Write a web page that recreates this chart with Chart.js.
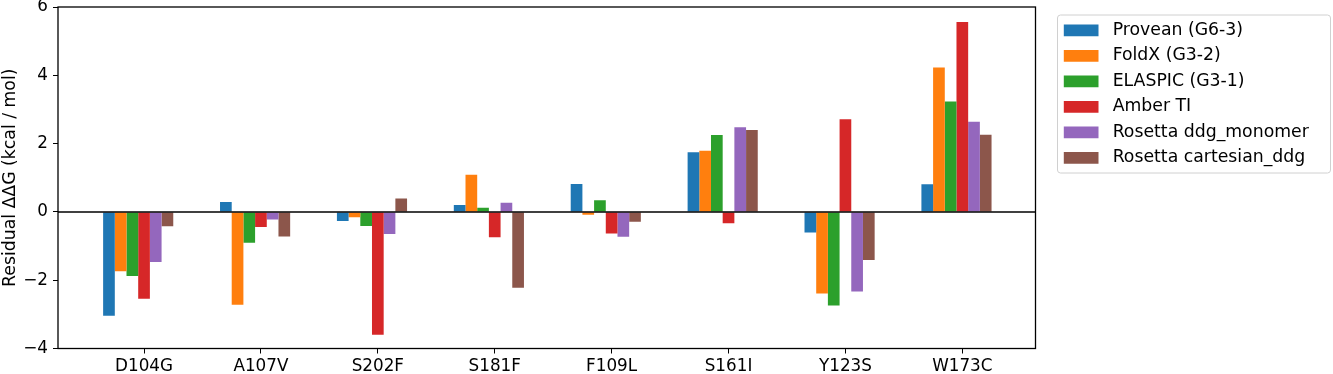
<!DOCTYPE html>
<html>
<head>
<meta charset="utf-8">
<script src="https://cdn.jsdelivr.net/npm/chart.js@4/dist/chart.umd.min.js"></script>
<style>
  html, body { margin: 0; padding: 0; background: #fff; }
  #wrap { width: 1333px; height: 374px; }
</style>
</head>
<body>
<div id="wrap"><canvas id="chart"></canvas></div>
<script>
// ---------- data ----------
const mutations = ['D104G', 'A107V', 'S202F', 'S181F', 'F109L', 'S161I', 'Y123S', 'W173C'];

const provean  = [-3.04,  0.29, -0.27,  0.20,  0.82,  1.75, -0.60,  0.81];
const foldx    = [-1.74, -2.72, -0.16,  1.09, -0.08,  1.79, -2.39,  4.23];
const elaspic  = [-1.88, -0.90, -0.41,  0.12,  0.34,  2.25, -2.74,  3.23];
const amberTI  = [-2.54, -0.44, -3.60, -0.74, -0.63, -0.33,  2.71,  5.56];
const rosMono  = [-1.47, -0.22, -0.65,  0.27, -0.73,  2.48, -2.33,  2.64];
const rosCart  = [-0.42, -0.72,  0.39, -2.22, -0.29,  2.40, -1.41,  2.26];

const seriesNames = ['Provean (G6-3)', 'FoldX (G3-2)', 'ELASPIC (G3-1)', 'Amber TI',
                     'Rosetta ddg_monomer', 'Rosetta cartesian_ddg'];
const seriesValues = [provean, foldx, elaspic, amberTI, rosMono, rosCart];
const seriesColors = ['#1f77b4', '#ff7f0e', '#2ca02c', '#d62728', '#9467bd', '#8c564b'];

const yTicks = [-4, -2, 0, 2, 4, 6];

// ---------- layout ----------
const FONT = { family: 'DejaVu Sans', size: 16.8 };
const BIG = { family: 'DejaVu Sans', size: 17.3 };
const GROUP_SHIFT = -0.05;  // tick sits on the 4th bar, so the group is half a bar left

const datasets = seriesNames.map((name, k) => ({
  label: name,
  data: seriesValues[k].map((v, i) => ({ x: i + GROUP_SHIFT, y: v })),
  backgroundColor: seriesColors[k],
  borderWidth: 0,
  categoryPercentage: 0.6,
  barPercentage: 1.0,
}));

// spines, zero line, legend frame
const framePlugin = {
  id: 'frame',
  afterLayout(chart) {
    const lg = chart.legend;
    const w = lg.width, h = lg.height;
    lg.left = 1055.6; lg.top = 13.6;
    lg.right = lg.left + w; lg.bottom = lg.top + h;
  },
  beforeDatasetsDraw(chart) {
    const ctx = chart.ctx;
    ctx.save();
    ctx.strokeStyle = '#d0d0d0';
    ctx.lineWidth = 1;
    ctx.beginPath();
    ctx.roundRect(1057.5, 15, 273, 158, 3);
    ctx.stroke();
    ctx.restore();
  },
  afterDraw(chart) {
    const a = chart.chartArea, ctx = chart.ctx;
    ctx.save();
    ctx.strokeStyle = '#000';
    ctx.lineWidth = 1.3;
    ctx.strokeRect(a.left, a.top, a.right - a.left, a.bottom - a.top);
    const y0 = chart.scales.y.getPixelForValue(0);
    ctx.lineWidth = 1.5;
    ctx.beginPath();
    ctx.moveTo(a.left, y0);
    ctx.lineTo(a.right, y0);
    ctx.stroke();
    ctx.restore();
  },
};

Chart.defaults.font.family = FONT.family;
Chart.defaults.color = '#000';

new Chart(document.getElementById('chart'), {
  type: 'bar',
  data: { datasets },
  options: {
    responsive: true,
    maintainAspectRatio: false,
    animation: false,
    devicePixelRatio: 1,
    layout: { padding: { top: 7, right: 297.5, bottom: 0, left: 0 } },
    plugins: {
      tooltip: { enabled: false },
      legend: {
        position: 'chartArea',
        align: 'start',
        labels: {
          font: BIG,
          color: '#000',
          boxWidth: 34.7,
          boxHeight: 11.7,
          padding: 8.2,
          generateLabels(chart) {
            const items = Chart.defaults.plugins.legend.labels.generateLabels(chart);
            return items.map((it) => Object.assign(it, { text: ' ' + it.text, lineWidth: 0 }));
          },
        },
      },
    },
    scales: {
      x: {
        type: 'linear',
        min: -0.736,
        max: 7.626,
        offset: false,
        afterBuildTicks(scale) {
          scale.ticks = mutations.map((_, i) => ({ value: i }));
        },
        afterFit(scale) { scale.height = 25.5; },
        grid: { offset: false, drawOnChartArea: false, tickLength: 5, tickColor: '#000', lineWidth: 1 },
        border: { display: false },
        ticks: {
          font: FONT,
          color: '#000',
          padding: 3.4,
          autoSkip: false,
          maxRotation: 0,
          callback: (v) => mutations[v],
        },
      },
      y: {
        min: -4,
        max: 6,
        afterBuildTicks(scale) {
          scale.ticks = yTicks.map((v) => ({ value: v }));
        },
        afterFit(scale) { scale.width = 58; },
        grid: { drawOnChartArea: false, tickLength: 5, tickColor: '#000', lineWidth: 1 },
        border: { display: false },
        ticks: {
          font: { family: FONT.family, size: FONT.size, lineHeight: 0.2 },
          color: '#000',
          padding: 5,
          callback: (v) => String(v).replace('-', '\u2212'),
        },
        title: {
          display: true,
          text: 'Residual ΔΔG (kcal / mol)',
          font: BIG,
          color: '#000',
          padding: { top: 0, bottom: 0 },
        },
      },
    },
  },
  plugins: [framePlugin],
});
</script>
</body>
</html>
